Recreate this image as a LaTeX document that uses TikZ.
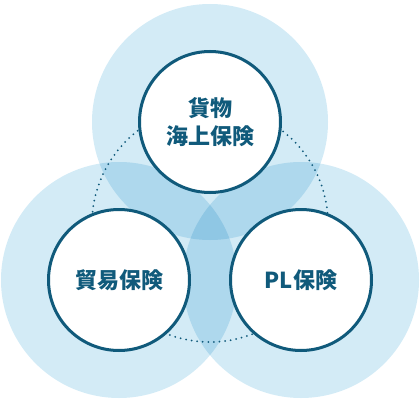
\documentclass[tikz,border=0pt]{standalone}
\usepackage{fontspec}
\usepackage{tikz}
\usetikzlibrary{positioning,calc}
\setmainfont{Noto Sans CJK JP}
\definecolor{nevoa}{HTML}{D3EBF6}
\definecolor{petroleo}{HTML}{105A7B}
\tikzset{
  halo/.style={circle, fill=nevoa, minimum size=236pt, inner sep=0pt},
  seguro/.style={circle, draw=petroleo, line width=3pt, fill=white, minimum size=141pt,
    inner sep=0pt, align=center, text=petroleo, font=\fontsize{22}{28}\selectfont\bfseries},
  trilho/.style={draw=petroleo, line width=2pt, dash pattern=on 0pt off 5.6pt, line cap=round},
}

\begin{document}
\begin{tikzpicture}[x=1pt, y=-1pt]
    \useasboundingbox (0,0) rectangle (420,404);
    % halos sobrepostos
    \begin{scope}[blend group=multiply]
      \node[halo] (h1) at (210,122) {};
      \node[halo] (h2) at (119,280) {};
      \node[halo] (h3) at (301,280) {};
    \end{scope}
    \draw[trilho] (210,224) circle[radius=118pt];
    \node[seguro] (c1) at (h1) {貨物\\海上保険};
    \node[seguro] (c2) at (h2) {貿易保険};
    \node[seguro] (c3) at (h3) {PL保険};
  \end{tikzpicture}
\end{document}
